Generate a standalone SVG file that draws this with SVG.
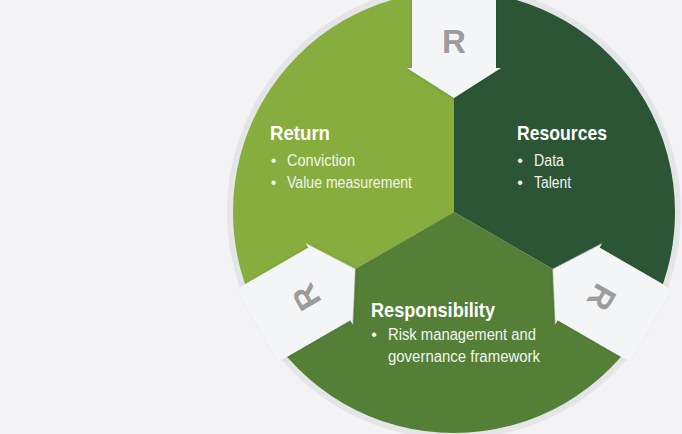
<svg xmlns="http://www.w3.org/2000/svg" xmlns:xlink="http://www.w3.org/1999/xlink" width="682" height="434" viewBox="0 0 682 434">
<style>
.t{font-family:"Liberation Sans",Arial,sans-serif;fill:#ffffff}
.h{font-weight:bold;font-size:21px}
.b{font-size:16px;fill:#f2f4ee}
.d{font-size:16px;fill:#f2f4ee;text-anchor:middle}
.r{font-family:"Liberation Sans",Arial,sans-serif;font-weight:bold;font-size:33px;fill:#9c9c9c;text-anchor:middle}
.arrow{fill:#f4f5f7}
</style>
<defs>
<filter id="sh" x="-20%" y="-20%" width="140%" height="140%">
<feDropShadow dx="0" dy="1" stdDeviation="1.5" flood-color="#000" flood-opacity="0.16"/>
</filter>
<path id="arrowShape" class="arrow" d="M0,-114 L47,-144 L42,-144 L42,-221 Q42,-227 36,-227 L-36,-227 Q-42,-227 -42,-221 L-42,-144 L-47,-144 Z"/>
</defs>
<rect width="682" height="434" fill="#f3f3f5"/>
<circle cx="454" cy="212" r="227" fill="#e4e5e7"/>
<g id="return">
<path d="M454,212 L454,-9 A221,221 0 0 0 262.6,322.5 Z" fill="#87ad3e"/>
<text class="t h" x="270" y="140" textLength="60" lengthAdjust="spacingAndGlyphs">Return</text>
<text class="t d" x="273.5" y="166">•</text>
<text class="t b" x="287" y="166" textLength="68" lengthAdjust="spacingAndGlyphs">Conviction</text>
<text class="t d" x="273.5" y="188">•</text>
<text class="t b" x="287" y="188" textLength="125" lengthAdjust="spacingAndGlyphs">Value measurement</text>
</g>
<g id="resources">
<path d="M454,212 L454,-9 A221,221 0 0 1 645.4,322.5 Z" fill="#2c5535"/>
<text class="t h" x="517" y="140" textLength="90" lengthAdjust="spacingAndGlyphs">Resources</text>
<text class="t d" x="520" y="166">•</text>
<text class="t b" x="534" y="166" textLength="30" lengthAdjust="spacingAndGlyphs">Data</text>
<text class="t d" x="520" y="188">•</text>
<text class="t b" x="534" y="188" textLength="37" lengthAdjust="spacingAndGlyphs">Talent</text>
</g>
<g id="responsibility">
<path d="M454,212 L262.6,322.5 A221,221 0 0 0 645.4,322.5 Z" fill="#537f37"/>
<text class="t h" x="371" y="317" textLength="124" lengthAdjust="spacingAndGlyphs">Responsibility</text>
<text class="t d" x="374" y="340">•</text>
<text class="t b" x="388" y="340" textLength="148" lengthAdjust="spacingAndGlyphs">Risk management and</text>
<text class="t b" x="388" y="362" textLength="152" lengthAdjust="spacingAndGlyphs">governance framework</text>
</g>
<g id="connectors">
<g id="arrow-top" transform="translate(454,212)">
<use xlink:href="#arrowShape" href="#arrowShape" filter="url(#sh)"/>
<text class="r" x="0" y="-159">R</text>
</g>
<g id="arrow-right" transform="translate(454,212) rotate(120)">
<use xlink:href="#arrowShape" href="#arrowShape" filter="url(#sh)"/>
<text class="r" x="0" y="-159">R</text>
</g>
<g id="arrow-left" transform="translate(454,212) rotate(-120)">
<use xlink:href="#arrowShape" href="#arrowShape" filter="url(#sh)"/>
<text class="r" x="0" y="-159">R</text>
</g>
</g>
</svg>
